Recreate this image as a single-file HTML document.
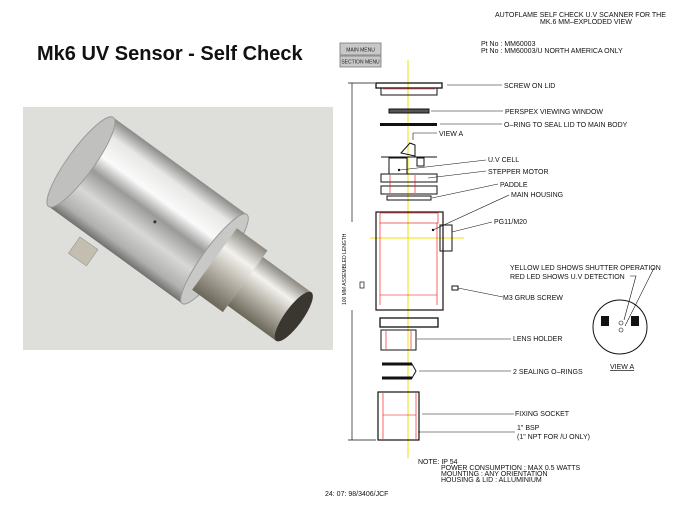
<!DOCTYPE html>
<html><head><meta charset="utf-8"><style>
html,body{margin:0;padding:0;background:#fff;}
svg text{font-family:"Liberation Sans",sans-serif;}
</style></head><body>
<svg width="680" height="510" viewBox="0 0 680 510" xmlns="http://www.w3.org/2000/svg">
<defs>
<linearGradient id="cyl" x1="0" y1="0" x2="0" y2="1">
<stop offset="0" stop-color="#8a8a88"/><stop offset="0.15" stop-color="#e8e8e6"/><stop offset="0.35" stop-color="#fafafa"/><stop offset="0.5" stop-color="#9a9a98"/><stop offset="0.7" stop-color="#d8d8d6"/><stop offset="0.9" stop-color="#b0b0ae"/><stop offset="1" stop-color="#707070"/>
</linearGradient>
<linearGradient id="noz" x1="0" y1="0" x2="0" y2="1">
<stop offset="0" stop-color="#8a8880"/><stop offset="0.3" stop-color="#f4f2ee"/><stop offset="0.6" stop-color="#b8b4aa"/><stop offset="1" stop-color="#6a6658"/>
</linearGradient>
</defs>
<text x="37" y="60" font-size="20" font-weight="bold" fill="#111">Mk6 UV Sensor - Self Check</text>
<rect x="23" y="107" width="310" height="243" fill="#dededa"/>
<g transform="translate(84,252) rotate(35)"><rect x="-12" y="-10" width="22" height="20" fill="#c4beb0" stroke="#888" stroke-width="0.5"/></g>
<g transform="translate(81,162) rotate(36)">
<rect x="0" y="-55" width="165" height="110" fill="url(#cyl)"/>
<ellipse cx="0" cy="0" rx="13" ry="55" fill="#c0c0be" stroke="#999" stroke-width="1"/>
<ellipse cx="165" cy="0" rx="12" ry="55" fill="#c8c8c6" stroke="#999" stroke-width="1"/>
<rect x="165" y="-38" width="38" height="76" fill="url(#noz)"/>
<rect x="203" y="-30" width="60" height="60" fill="url(#noz)"/>
<ellipse cx="263" cy="0" rx="9" ry="30" fill="#3a3630"/>
<circle cx="95" cy="5" r="1.5" fill="#333"/>
</g>
<!-- buttons -->
<rect x="340" y="43" width="41" height="12" fill="#c8c8c8" stroke="#777" stroke-width="0.8"/>
<text x="360.5" y="51.5" font-size="5" text-anchor="middle" fill="#222">MAIN MENU</text>
<rect x="340" y="56" width="41" height="11" fill="#c8c8c8" stroke="#777" stroke-width="0.8"/>
<text x="360.5" y="63.5" font-size="5" text-anchor="middle" fill="#222">SECTION MENU</text>
<g font-size="7" fill="#111">
<text x="495" y="17">AUTOFLAME SELF CHECK U.V SCANNER FOR THE</text>
<text x="540" y="24">MK.6 MM–EXPLODED VIEW</text>
<text x="481" y="46">Pt No :  MM60003</text>
<text x="481" y="53">Pt No :  MM60003/U NORTH AMERICA ONLY</text>
<text x="504" y="88">SCREW ON LID</text>
<text x="505" y="114">PERSPEX VIEWING WINDOW</text>
<text x="504" y="127">O–RING TO SEAL LID TO MAIN BODY</text>
<text x="439" y="136">VIEW A</text>
<text x="488" y="162">U.V CELL</text>
<text x="488" y="174">STEPPER MOTOR</text>
<text x="500" y="187">PADDLE</text>
<text x="511" y="197">MAIN HOUSING</text>
<text x="494" y="224">PG11/M20</text>
<text x="510" y="270">YELLOW LED SHOWS SHUTTER OPERATION</text>
<text x="510" y="279">RED LED SHOWS U.V  DETECTION</text>
<text x="503" y="300">M3 GRUB SCREW</text>
<text x="513" y="341">LENS HOLDER</text>
<text x="513" y="374">2 SEALING O–RINGS</text>
<text x="515" y="416">FIXING SOCKET</text>
<text x="517" y="430">1" BSP</text>
<text x="517" y="439">(1" NPT FOR /U ONLY)</text>
<text x="610" y="369" text-decoration="underline">VIEW A</text>
<text x="418" y="464">NOTE: IP 54</text>
<text x="441" y="470">POWER CONSUMPTION :  MAX 0.5 WATTS</text>
<text x="441" y="476">MOUNTING :  ANY ORIENTATION</text>
<text x="441" y="482">HOUSING &amp; LID :  ALLUMINIUM</text>
<text x="325" y="496">24: 07: 98/3406/JCF</text>
</g>
<text transform="translate(346,305) rotate(-90)" font-size="5" fill="#111">100 MM ASSEMBLED LENGTH</text>
<g stroke="#111" stroke-width="0.7" fill="none">
<line x1="352" y1="83" x2="352" y2="222"/><line x1="352" y1="310" x2="352" y2="440"/>
<line x1="348" y1="83" x2="375" y2="83"/><line x1="348" y1="440" x2="376" y2="440"/>
<rect x="360" y="282" width="4" height="6"/>
</g>
<line x1="408" y1="60" x2="408" y2="458" stroke="#f0e000" stroke-width="1"/>
<line x1="370" y1="238" x2="464" y2="238" stroke="#f0e000" stroke-width="1"/>
<g stroke="#111" stroke-width="1" fill="none">
<rect x="376" y="83" width="66" height="5" stroke-width="1.3"/>
<rect x="381" y="88" width="56" height="7"/>
<rect x="389" y="109" width="40" height="4" fill="#555"/>
<line x1="380" y1="124.5" x2="437" y2="124.5" stroke-width="3"/>
<path d="M401 153 L410 143 L415 145 L415 156 Z"/>
<line x1="381" y1="157" x2="437" y2="157"/>
<rect x="389" y="158" width="18" height="16"/>
<rect x="417" y="158" width="7" height="8"/>
<rect x="381" y="174" width="56" height="8"/>
<rect x="381" y="186" width="56" height="8"/>
<rect x="387" y="196" width="44" height="4"/>
<rect x="376" y="212" width="67" height="98" stroke-width="1.2"/>
<rect x="440" y="225" width="12" height="26"/>
<rect x="380" y="318" width="58" height="9" stroke-width="1.3"/>
<rect x="381" y="330" width="35" height="20"/>
<path d="M382 364 L412 364 L416 371 L412 378 L382 378" />
<line x1="382" y1="364" x2="412" y2="364" stroke-width="3"/>
<line x1="382" y1="378" x2="412" y2="378" stroke-width="3"/>
<rect x="378" y="392" width="41" height="48" stroke-width="1.2"/>
<rect x="452" y="286" width="6" height="4"/>
<circle cx="620" cy="327" r="27"/>
</g>
<g stroke="#e00" stroke-width="0.6" fill="none">
<rect x="380" y="213" width="58" height="10"/>
<line x1="380" y1="223" x2="380" y2="305"/><line x1="437" y1="223" x2="437" y2="305"/>
<line x1="380" y1="295" x2="437" y2="295"/>
<line x1="390" y1="175" x2="390" y2="193"/><line x1="415" y1="175" x2="415" y2="193"/>
<line x1="383" y1="89" x2="435" y2="89"/>
<line x1="383" y1="393" x2="383" y2="439"/><line x1="416" y1="393" x2="416" y2="439"/>
<line x1="383" y1="415" x2="416" y2="415"/>
<line x1="386" y1="331" x2="386" y2="349"/><line x1="411" y1="331" x2="411" y2="349"/>
</g>
<g stroke="#111" stroke-width="0.6" fill="none">
<line x1="447" y1="85" x2="502" y2="85"/>
<line x1="431" y1="111" x2="503" y2="111"/>
<line x1="440" y1="124" x2="502" y2="124"/>
<path d="M437 133 L413 133 L413 140"/>
<line x1="400" y1="170" x2="486" y2="160"/>
<line x1="428" y1="178" x2="486" y2="171"/>
<line x1="432" y1="198" x2="498" y2="184"/>
<line x1="433" y1="230" x2="509" y2="195"/>
<line x1="452" y1="232" x2="492" y2="222"/>
<line x1="458" y1="288" x2="503" y2="297"/>
<line x1="417" y1="339" x2="511" y2="339"/>
<line x1="419" y1="371" x2="511" y2="371"/>
<line x1="422" y1="414" x2="514" y2="414"/>
<line x1="418" y1="432" x2="515" y2="432"/>
<path d="M630 276 L636 276 L624 320"/>
<path d="M654 268 L625 326"/>
</g>
<g fill="#111">
<circle cx="399" cy="170" r="1.2"/><circle cx="433" cy="230" r="1.2"/>
<rect x="601" y="316" width="8" height="10"/><rect x="631" y="316" width="8" height="10"/>
</g>
<g stroke="#111" stroke-width="0.6" fill="#fff">
<circle cx="621" cy="323" r="2"/><circle cx="621" cy="330" r="2"/>
</g>
</svg>
</body></html>
